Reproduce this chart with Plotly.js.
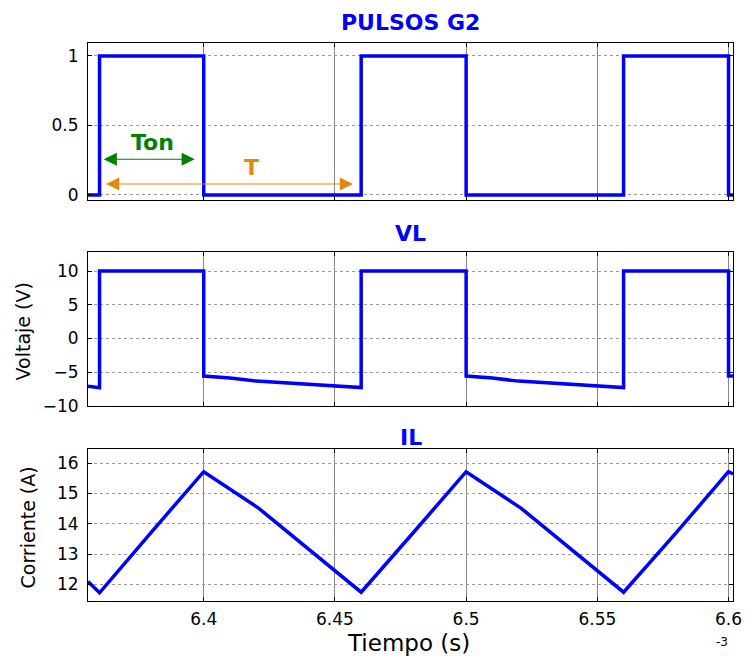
<!DOCTYPE html>
<html>
<head>
<meta charset="utf-8">
<script src="https://cdn.plot.ly/plotly-3.0.1.min.js"></script>
<style>html,body{margin:0;padding:0;background:#fff;}#chart{width:745px;height:656px;}</style>
</head>
<body>
<div id="chart"></div>
<script>
// Time in units of 1e-3 s
const pulseT = [6.3559, 6.3603, 6.3603, 6.4, 6.4, 6.46, 6.46, 6.5, 6.5, 6.56, 6.56, 6.6, 6.6, 6.6017];
const pulseV = [0, 0, 1, 1, 0, 0, 1, 1, 0, 0, 1, 1, 0, 0];

const vlT = [6.3559, 6.3603, 6.3603, 6.4, 6.4, 6.41, 6.42, 6.46, 6.46, 6.5, 6.5, 6.51, 6.52, 6.56, 6.56, 6.6, 6.6, 6.6017];
const vlV = [-7.1, -7.33, 10, 10, -5.6, -5.9, -6.35, -7.3, 10, 10, -5.6, -5.9, -6.35, -7.3, 10, 10, -5.6, -5.6];

const ilT = [6.3559, 6.3603, 6.38, 6.39, 6.4, 6.421, 6.46, 6.48, 6.49, 6.5, 6.521, 6.56, 6.58, 6.59, 6.6, 6.6017];
const ilV = [12.09, 11.72, 13.72, 14.73, 15.72, 14.51, 11.74, 13.72, 14.73, 15.72, 14.51, 11.74, 13.7, 14.73, 15.72, 15.65];

const xTicks = [6.4, 6.45, 6.5, 6.55, 6.6];
const yTicks1 = [0, 0.5, 1];
const yTicks2 = [-10, -5, 0, 5, 10];
const yTicks3 = [12, 13, 14, 15, 16];

const FONT = 'DejaVu Sans, Arial, sans-serif';
const BLUE = '#0000FF';
const xr = [6.3559, 6.6017];

function xa(anchor, showLabels) {
  return {
    anchor: anchor, range: xr, tickvals: xTicks, showticklabels: showLabels,
    ticks: 'inside', ticklen: 4, tickcolor: '#000', mirror: 'ticks',
    showline: true, linecolor: '#000', linewidth: 1,
    showgrid: true, gridcolor: '#6a6a6a', gridwidth: 0.8,
    zeroline: false, tickfont: {family: FONT, size: 17, color: '#000'},
    ticklabelstandoff: 3
  };
}
function ya(anchor, dom, range, tv) {
  return {
    anchor: anchor, domain: dom, range: range, tickvals: tv,
    ticks: 'inside', ticklen: 4, tickcolor: '#000', mirror: 'ticks',
    showline: true, linecolor: '#000', linewidth: 1,
    showgrid: true, gridcolor: '#9a9a9a', griddash: 'dot', gridwidth: 1,
    zeroline: false, tickfont: {family: FONT, size: 17, color: '#000'},
    ticklabelstandoff: 5
  };
}

const traces = [
  {x: pulseT, y: pulseV, xaxis: 'x', yaxis: 'y', mode: 'lines', line: {color: BLUE, width: 3.5}},
  {x: vlT, y: vlV, xaxis: 'x2', yaxis: 'y2', mode: 'lines', line: {color: BLUE, width: 3.5}},
  {x: ilT, y: ilV, xaxis: 'x3', yaxis: 'y3', mode: 'lines', line: {color: BLUE, width: 3.5}}
];

const H = 656;
function py(px) { return 1 - px / H; }

const GREEN = '#008000';
const ORANGE = '#E08A10';

const layout = {
  width: 745, height: 656,
  margin: {l: 88, r: 12, t: 0, b: 0},
  paper_bgcolor: '#fff', plot_bgcolor: '#fff',
  showlegend: false,
  xaxis: xa('y', false),
  yaxis: ya('x', [py(200), py(43.3)], [-0.036, 1.091], yTicks1),
  xaxis2: xa('y2', false),
  yaxis2: ya('x2', [py(405.7), py(251.7)], [-10, 12.87], yTicks2),
  xaxis3: xa('y3', true),
  yaxis3: ya('x3', [py(601), py(449)], [11.45, 16.47], yTicks3),
  annotations: [
    {text: '<b>PULSOS G2</b>', xref: 'paper', yref: 'paper', x: 0.5, y: py(22), xanchor: 'center', yanchor: 'middle', showarrow: false, font: {family: FONT, size: 22, color: BLUE}},
    {text: '<b>VL</b>', xref: 'paper', yref: 'paper', x: 0.5, y: py(233), xanchor: 'center', yanchor: 'middle', showarrow: false, font: {family: FONT, size: 22, color: BLUE}},
    {text: '<b>IL</b>', xref: 'paper', yref: 'paper', x: 0.5, y: py(437), xanchor: 'center', yanchor: 'middle', showarrow: false, font: {family: FONT, size: 22, color: BLUE}},
    {text: 'Voltaje (V)', xref: 'paper', yref: 'paper', x: (22 - 88) / 645, y: py(331.5), xanchor: 'center', yanchor: 'middle', textangle: -90, showarrow: false, font: {family: FONT, size: 19, color: '#000'}},
    {text: 'Corriente (A)', xref: 'paper', yref: 'paper', x: (27 - 88) / 645, y: py(527.5), xanchor: 'center', yanchor: 'middle', textangle: -90, showarrow: false, font: {family: FONT, size: 19, color: '#000'}},
    {text: 'Tiempo (s)', xref: 'paper', yref: 'paper', x: (408 - 88) / 645, y: py(643), xanchor: 'center', yanchor: 'middle', showarrow: false, font: {family: FONT, size: 23, color: '#000'}},
    {text: '-3', xref: 'paper', yref: 'paper', x: (722 - 88) / 645, y: py(642), xanchor: 'center', yanchor: 'middle', showarrow: false, font: {family: FONT, size: 12, color: '#000'}},
    {text: '<b>Ton</b>', xref: 'x', yref: 'y', x: 6.3805, y: 0.374, xanchor: 'center', yanchor: 'middle', showarrow: false, font: {family: FONT, size: 22, color: GREEN}},
    {text: '<b>T</b>', xref: 'x', yref: 'y', x: 6.4182, y: 0.2, xanchor: 'center', yanchor: 'middle', showarrow: false, font: {family: FONT, size: 22, color: ORANGE}},
    {text: '', xref: 'x', yref: 'y', axref: 'x', ayref: 'y', x: 6.3966, y: 0.257, ax: 6.3613, ay: 0.257, showarrow: true, arrowside: 'end+start', arrowhead: 2, arrowsize: 2.2, arrowwidth: 1.2, arrowcolor: GREEN},
    {text: '', xref: 'x', yref: 'y', axref: 'x', ayref: 'y', x: 6.4569, y: 0.079, ax: 6.3622, ay: 0.079, showarrow: true, arrowside: 'end+start', arrowhead: 2, arrowsize: 2.2, arrowwidth: 1.2, arrowcolor: ORANGE}
  ]
};

Plotly.newPlot('chart', traces, layout, {displayModeBar: false, staticPlot: true});
</script>
</body>
</html>
